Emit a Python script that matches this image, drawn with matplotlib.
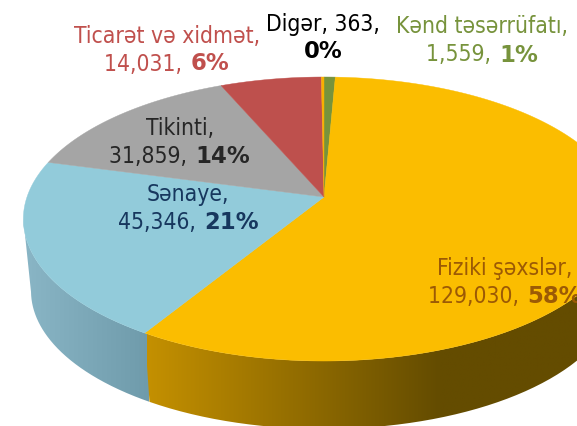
import numpy as np
import matplotlib
matplotlib.use('Agg')
import matplotlib.pyplot as plt
from matplotlib.path import Path
from matplotlib.patches import PathPatch
from matplotlib.colors import LinearSegmentedColormap

plt.rcParams['font.family'] = ['DejaVu Sans']

names = ['Kənd təsərrüfatı,', 'Fiziki şəxslər,', 'Sənaye,', 'Tikinti,', 'Ticarət və xidmət,', 'Digər, 363,']
values = [1559, 129030, 45346, 31859, 14031, 363]
value_text = ['1,559, ', '129,030, ', '45,346, ', '31,859, ', '14,031, ', '']
percents = ['1%', '58%', '21%', '14%', '6%', '0%']
colors = ['#77933C', '#FBBD00', '#92CBDA', '#A5A5A5', '#BE504D', '#F9B000']
text_colors = ['#77933C', '#9C5A05', '#17375E', '#262626', '#C0504D', '#000000']
label_pos = [(482, 27), (505, 269), (188, 195), (180, 129), (167, 36), (323, 24)]

# perspective of the pie top, apex in pixels
cx, cy = 324, 198
rx, ry, k = 297, 138.6, 0.155
# lower rim of the side wall
bx, by, brx, bry = 324, 292, 293, 138


def top_rim(a):
    u, v = np.sin(a), -np.cos(a)
    w = 1 - k * v
    return cx + rx * u / w, cy + ry * v / w


def low_rim(a):
    # same direction on the lower ellipse
    x, y = top_rim(a)
    t = np.arctan2((y - 220) / 142, (x - 324) / 301)
    return bx + brx * np.cos(t), by + bry * np.sin(t)


fig = plt.figure(figsize=(5.77, 4.27), dpi=100)
ax = fig.add_axes([0, 0, 1, 1])
ax.set_xlim(0, 577)
ax.set_ylim(427, 0)
ax.axis('off')

shares = np.array(values) / sum(values)
edges = np.concatenate([[0], np.cumsum(shares)]) * 2 * np.pi

# side wall, only the two front slices can be seen
side_maps = {
    2: [(0, '#8AB6C6'), (1, '#6F9BAB')],
    1: [(0, '#C49000'), (0.68, '#644C00'), (1, '#644C00')],
}
side_ranges = {1: (edges[1], edges[2]), 2: (edges[2] - 0.02, 1.5 * np.pi - 0.156)}
side_x = {1: (147, 577), 2: (22, 149)}
for i in side_maps:
    a = np.linspace(side_ranges[i][0], side_ranges[i][1], 300)
    tx, ty = top_rim(a)
    lx, ly = low_rim(a)
    xs = np.concatenate([tx, lx[::-1]])
    ys = np.concatenate([ty, ly[::-1]])
    clip = PathPatch(Path(np.column_stack([xs, ys])), transform=ax.transData, fc='none', ec='none')
    ax.add_patch(clip)
    cmap = LinearSegmentedColormap.from_list('side', side_maps[i])
    grad = np.linspace(0, 1, 256).reshape(1, -1)
    im = ax.imshow(grad, cmap=cmap, extent=(side_x[i][0], side_x[i][1], 427, 200), aspect='auto', zorder=1)
    im.set_clip_path(clip)
ax.set_xlim(0, 577)
ax.set_ylim(427, 0)

# top face
for i in range(len(values)):
    a = np.linspace(edges[i], edges[i + 1], 200)
    x, y = top_rim(a)
    ax.fill(np.r_[cx, x], np.r_[cy, y], color=colors[i], lw=0.3, zorder=2)

# labels, second line has a bold percent in it
fig.canvas.draw()
r = fig.canvas.get_renderer()
fs = 16.4
for i in range(len(values)):
    px, py = label_pos[i]
    ax.text(px, py, names[i], color=text_colors[i], fontsize=fs, stretch='condensed', ha='center', va='center', zorder=3)
    y2 = py + 28
    t1 = ax.text(0, y2, value_text[i], color=text_colors[i], fontsize=fs, stretch='condensed', va='center', zorder=3)
    t2 = ax.text(0, y2, percents[i], color=text_colors[i], fontsize=fs, fontweight='bold', va='center', zorder=3)
    w1 = t1.get_window_extent(r).width + 2 if value_text[i] else 0
    w2 = t2.get_window_extent(r).width
    left = px - (w1 + w2) / 2
    t1.set_x(left)
    t2.set_x(left + w1)

fig.savefig('out.png', dpi=100)
